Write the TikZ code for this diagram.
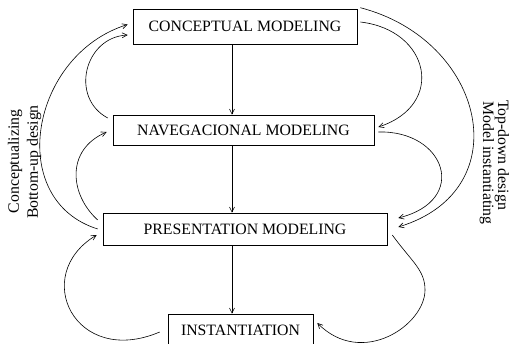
\documentclass[tikz,border=0pt]{standalone}
\usepackage{fontspec}
\setmainfont{Liberation Serif}
\usetikzlibrary{arrows.meta}

\begin{document}
\begin{tikzpicture}[x=1pt,y=-1pt,line width=0.6pt,>={Straight Barb[length=5pt,width=5pt]},
        box/.style={draw,inner sep=0pt,font=\fontsize{15.8}{19}\selectfont},
        side/.style={font=\fontsize{15.8}{19}\selectfont}]
                \useasboundingbox (0,0) rectangle (511,344);
                \node[box,minimum width=224pt,minimum height=35pt] (C) at (245,26.5) {CONCEPTUAL MODELING};
                \node[box,minimum width=261pt,minimum height=30pt] (N) at (243.5,130) {NAVEGACIONAL MODELING};
                \node[box,minimum width=284pt,minimum height=32pt] (P) at (245,229) {PRESENTATION MODELING};
                \node[box,minimum width=145pt,minimum height=32pt] (I) at (240.5,330) {INSTANTIATION};
                \coordinate (axis) at (232,0);
                \draw[->] (C.south -| axis) -- (N.north -| axis);
                \draw[->] (N.south -| axis) -- (P.north -| axis);
                \draw[->] (P.south -| axis) -- (I.north -| axis);
                % bottom-up side
                \draw[->] ([xshift=-5pt]P.west) .. controls (5,200) and (30,55) .. ([xshift=-5pt,yshift=2pt]C.west);
                \draw[->] ([xshift=-5pt,yshift=12pt]N.west) .. controls (69.5,97.5) and (84.5,37.3) .. ([xshift=-5pt,yshift=-8.5pt]C.west);
                \draw[->] ([xshift=-5pt,yshift=9pt]P.west) .. controls (70,195) and (65,150) .. ([xshift=-6pt,yshift=-2pt]N.west);
                \draw[->] ([xshift=-8pt,yshift=-2pt]I.west) .. controls (75,368) and (30,275) .. ([xshift=-6pt,yshift=-6pt]P.west);
                % top-down side
                \draw[->] ([xshift=3pt,yshift=1pt]C.north east) .. controls (485,40) and (520,190) .. ([xshift=11pt,yshift=2pt]P.east);
                \draw[->] ([xshift=3pt,yshift=4.5pt]C.east) .. controls (430,30) and (446,105) .. ([xshift=4pt,yshift=3pt]N.east);
                \draw[->] ([xshift=4pt,yshift=-2pt]N.east) .. controls (445,130) and (470,200) .. ([xshift=11pt,yshift=11pt]P.east);
                \draw[->] ([xshift=5pt,yshift=-6pt]P.east) .. controls (412,262) and (425,270) .. (425,290)
                        .. controls (425,325) and (362,368) .. ([xshift=4pt,yshift=7pt]I.east);
                \node[side,rotate=90] (cz) at (15,161.5) {Conceptualizing};
                \node[side,rotate=90] (bu) at (34,162) {Bottom-up design};
                \node[side,rotate=-90] (td) at (502,155) {Top-down design};
                \node[side,rotate=-90] (mi) at (487,163) {Model instantiating};
            \end{tikzpicture}
\end{document}
